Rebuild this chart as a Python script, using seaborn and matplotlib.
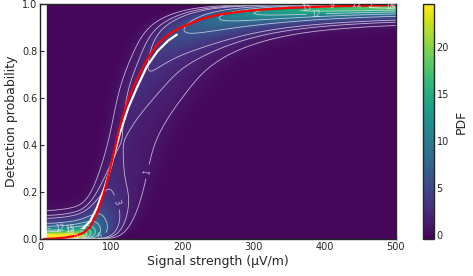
import math
import numpy as np
import seaborn as sns
import matplotlib
matplotlib.use('Agg')
import matplotlib.pyplot as plt

# fitted detection curve (red)
curve_x = [5, 20, 35, 50, 60, 70, 80, 90, 100, 112, 124, 136, 150, 165,
           180, 197, 225, 250, 281, 309, 350, 400, 450, 500]
curve_p = [0.0, 0.002, 0.006, 0.014, 0.025, 0.05, 0.11, 0.2, 0.32, 0.48,
           0.6, 0.68, 0.765, 0.83, 0.87, 0.9, 0.935, 0.955, 0.968, 0.976,
           0.984, 0.99, 0.993, 0.996]

# posterior mean curve (white)
mean_x = [60, 70, 80, 90, 100, 112, 124, 136, 150, 165, 180, 192]
mean_p = [0.045, 0.075, 0.135, 0.215, 0.315, 0.45, 0.56, 0.645, 0.735, 0.8,
          0.845, 0.87]

# spread of the posterior around the curve
core_sd = 0.13        # log-shift of the curve, core
core_weight = 0.5
shelf_end = 0.5       # log-shift of the curve, long right tail
shelf_weight = 1.0
shelf_taper = 340     # signal above which the long tail fades
plateau_sd = 0.01     # spread of the upper plateau
conc_low = 30
conc_high = 60

contour_levels = [1, 2, 3, 6, 9, 12, 15, 18]
cbar_ticks = [0, 5, 10, 15, 20]
x_ticks = [0, 100, 200, 300, 400, 500]
y_ticks = [0.0, 0.2, 0.4, 0.6, 0.8, 1.0]

sns.set_theme(style='ticks')
plt.rcParams['font.family'] = ['DejaVu Sans']
plt.rcParams['xtick.direction'] = 'in'
plt.rcParams['ytick.direction'] = 'in'


def posterior_pdf(signal, prob):
    delta = np.linspace(-0.5, 0.9, 71)
    core = np.exp(-0.5 * (delta / core_sd) ** 2)
    shelf = 1 / (1 + np.exp((delta - shelf_end) / 0.05)) \
        / (1 + np.exp(-delta / 0.05))
    fade = 1 / (1 + (signal / shelf_taper) ** 2)
    weights = core_weight * (core / core.sum())[None, :] \
        + shelf_weight * fade[:, None] * (shelf / shelf.sum())[None, :]

    eps = np.linspace(0, 0.04, 9)
    eps_w = np.exp(-0.5 * (eps / plateau_sd) ** 2)
    eps_w /= eps_w.sum()

    xs = signal[:, None] / np.exp(delta)[None, :]
    base = np.interp(xs, curve_x, curve_p, left=0.0, right=curve_p[-1])
    lg = np.vectorize(math.lgamma)
    p = np.clip(prob, 1e-6, 1 - 1e-6)[:, None, None]
    lp, lq = np.log(p), np.log(1 - p)

    pdf = np.zeros((len(prob), len(signal)))
    for e, we in zip(eps, eps_w):
        mode = base * (1 - e * base ** 4)
        conc = conc_low + (conc_high - conc_low) * mode
        a = 1 + conc * mode
        b = 1 + conc * (1 - mode)
        log_beta = lg(a) + lg(b) - lg(a + b)
        logpdf = (a - 1)[None] * lp + (b - 1)[None] * lq - log_beta[None]
        pdf += we * (np.exp(logpdf) * weights[None]).sum(axis=2)
    return pdf


def main():
    signal = np.linspace(10, 500, 246)
    prob = np.linspace(0, 1, 301)
    pdf = posterior_pdf(signal, prob)

    fig = plt.figure(figsize=(4.73, 2.76), dpi=100)
    ax = fig.add_axes([0.085, 0.134, 0.752, 0.851])
    cax = fig.add_axes([0.894, 0.134, 0.023, 0.851])

    mesh = ax.pcolormesh(signal, prob, pdf, cmap='viridis', vmin=-0.4,
                         vmax=24.5, shading='gouraud', rasterized=True)
    cs = ax.contour(signal, prob, pdf, levels=contour_levels,
                    colors='#ece6f7', linewidths=0.6, alpha=0.75)
    ax.clabel(cs, fontsize=5.5, fmt='%d', inline=True, colors='#ece6f7')

    sns.lineplot(x=mean_x, y=mean_p, color='white', lw=1.6, ax=ax)
    sns.lineplot(x=curve_x, y=curve_p, color='red', lw=1.6, ax=ax)

    ax.set_xlim(0, 500)
    ax.set_ylim(0, 1)
    ax.set_xticks(x_ticks)
    ax.set_yticks(y_ticks)
    ax.set_xlabel('Signal strength (µV/m)', fontsize=9, labelpad=2)
    ax.set_ylabel('Detection probability', fontsize=9, labelpad=3)
    ax.tick_params(labelsize=7, length=3, width=0.8, pad=2)
    for s in ax.spines.values():
        s.set_linewidth(1.0)

    cbar = fig.colorbar(mesh, cax=cax, ticks=cbar_ticks)
    cbar.set_label('PDF', fontsize=9)
    cbar.ax.tick_params(labelsize=7, direction='in', length=3, pad=2)
    cbar.outline.set_linewidth(1.0)

    fig.savefig('out.png', dpi=100)


if __name__ == '__main__':
    main()
